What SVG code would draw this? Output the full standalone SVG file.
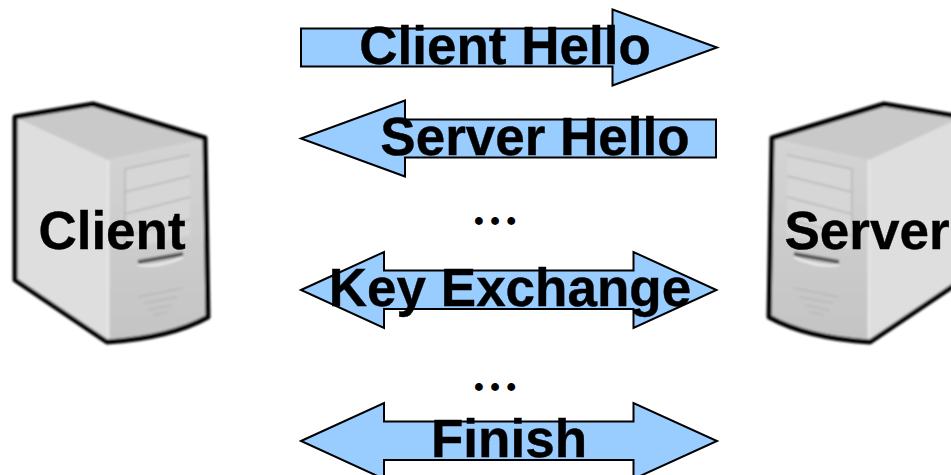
<svg xmlns="http://www.w3.org/2000/svg" width="951" height="475" viewBox="0 0 951 475">
<style>
text{font-family:"Liberation Sans",Arial,sans-serif;font-weight:bold;fill:#000;stroke:#000;stroke-width:0.4;text-anchor:middle;font-size:53px}
.arrow{fill:#99ccff;stroke:#000;stroke-width:2;stroke-linejoin:miter}
text.dots{font-family:"Liberation Serif","Times New Roman",serif;font-size:48px;stroke:none}
.o{fill:none;stroke:#000;stroke-width:5;stroke-linejoin:round}
.b{fill:none;stroke:#b8b8b8;stroke-width:1.5}
</style>
<defs>
<filter id="soft" x="-5%" y="-5%" width="110%" height="110%"><feGaussianBlur stdDeviation="1"/></filter>
<linearGradient id="front" x1="0" y1="0" x2="0" y2="1"><stop offset="0" stop-color="#d4d4d4"/><stop offset="1" stop-color="#c4c4c4"/></linearGradient>
<g id="tower" filter="url(#soft)">
<path d="M15 117L93 104L205 138L208 317Q170 338 107 342L15 280Z" fill="#dedede"/>
<path d="M17 118L93 106L203 139L108 160Z" fill="#c9c9c9"/>
<path d="M108 160L203 139L206 316Q170 336 108 340Z" fill="url(#front)"/>
<path d="M108 160L108 340" stroke="#e4e4e4" stroke-width="3" fill="none"/>
<path d="M125 169L190 155L190 235L125 250Z" fill="#d6d6d6"/>
<path class="b" d="M125 169L190 155M125 192L190 176M125 214L190 197M125 236L190 219M125 169L125 250"/>
<path d="M138 262L183 254" stroke="#555" stroke-width="4" fill="none"/>
<path d="M138 265Q160 268 183 257" stroke="#eee" stroke-width="2" fill="none"/>
<path class="b" d="M138 297L183 288M144 303L178 297M148 310L172 305M153 315L168 312"/>
<path class="o" d="M15 117L93 104L205 138L208 317Q170 338 107 342L15 280Z"/>
</g>
</defs>
<g id="client"><use href="#tower"/><text x="112" y="249">Client</text></g>
<g id="server"><use href="#tower" transform="translate(977,0) scale(-1,1)"/><text x="867" y="249">Server</text></g>
<g id="connectors">
<polygon class="arrow" points="301,28.500 612.500,28.500 612.500,9.500 717,47.500 612.500,85.500 612.500,66.500 301,66.500"/>
<polygon class="arrow" points="716,119.500 405,119.500 405,100.500 301,138.500 405,176.500 405,157.500 716,157.500"/>
<polygon class="arrow" points="301,290 384,252 384,270.500 633.500,270.500 633.500,252 716.500,290 633.500,328 633.500,309 384,309 384,328"/>
<polygon class="arrow" points="301,441 384,403 384,421.500 633.500,421.500 633.500,403 717,441 633.500,479 633.500,460 384,460 384,479"/>
</g>
<g id="label-client-hello"><text x="505" y="64">Client Hello</text></g>
<g id="label-server-hello"><text x="535" y="155">Server Hello</text></g>
<g id="label-dots-1"><text class="dots" x="495" y="225">…</text></g>
<g id="label-key-exchange"><text x="510" y="306">Key Exchange</text></g>
<g id="label-dots-2"><text class="dots" x="495" y="391">…</text></g>
<g id="label-finish"><text x="509" y="457">Finish</text></g>
</svg>
